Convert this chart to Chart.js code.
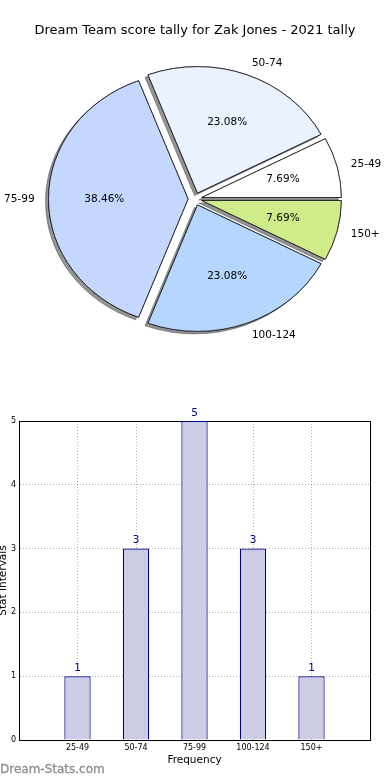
<!DOCTYPE html>
<html><head><meta charset="utf-8">
<script src="https://cdn.jsdelivr.net/npm/chart.js@4"></script>
<style>
html,body{margin:0;padding:0;background:#fff;}
#wrap{position:relative;width:390px;height:780px;overflow:hidden;background:#fff;}
#pie{position:absolute;left:0;top:0;}
#bar{position:absolute;left:0;top:400px;}
#wm{position:absolute;left:0;top:762px;font-family:'DejaVu Sans';font-size:12px;line-height:14px;color:#8c8c8c;font-weight:normal;white-space:nowrap;-webkit-text-stroke:0.3px #8c8c8c;}
</style></head><body>
<div id="wrap">
<canvas id="pie" width="390" height="400"></canvas>
<canvas id="bar" width="390" height="380"></canvas>
<div id="wm">Dream-Stats.com</div>
</div>
<script>
const titleText = 'Dream Team score tally for Zak Jones - 2021 tally';
const categories = ['25-49', '50-74', '75-99', '100-124', '150+'];
const counts = [1, 3, 5, 3, 1];
const sliceColors = ['#ffffff', '#eaf1ff', '#c4d7ff', '#b5d6ff', '#d0eb8a'];
const yTicks = [0, 1, 2, 3, 4, 5];
const xTitle = 'Frequency';
const yTitle = 'Stat Intervals';

Chart.defaults.font.family = "'DejaVu Sans'";
Chart.defaults.color = '#000';

// pie: matplotlib goes counter-clockwise from 3 o'clock; Chart.js clockwise -> reverse order
const pieLabels = categories.slice().reverse();
const pieValues = counts.slice().reverse();
const pieColors = sliceColors.slice().reverse();
const SX = 1.103;     // horizontal stretch (non-equal aspect)
const EXPLODE = 6.3;  // explode distance

const pieDraw = {
  id: 'pieDraw',
  beforeDatasetDraw(chart, args) {
    const ctx = chart.ctx;
    const els = args.meta.data;
    const cx = els[0].x, cy = els[0].y;
    const pass = (shadow) => {
      els.forEach(el => {
        const mid = (el.startAngle + el.endAngle) / 2;
        ctx.save();
        if (shadow) {
          ctx.shadowColor = 'rgba(60,60,60,0.55)';
          ctx.shadowOffsetX = -3;
          ctx.shadowOffsetY = 2.5;
          ctx.shadowBlur = 0;
        }
        ctx.translate(cx, cy); ctx.scale(SX, 1); ctx.translate(-cx, -cy);
        ctx.translate(Math.cos(mid) * EXPLODE, Math.sin(mid) * EXPLODE);
        el.draw(ctx);
        ctx.restore();
      });
    };
    pass(true);
    pass(false);
    return false;
  },
  afterDatasetsDraw(chart) {
    const ctx = chart.ctx;
    const meta = chart.getDatasetMeta(0);
    const data = chart.data.datasets[0].data;
    const total = data.reduce((a, b) => a + b, 0);
    ctx.save();
    ctx.font = "10.5px 'DejaVu Sans'";
    ctx.fillStyle = '#000';
    ctx.textBaseline = 'middle';
    meta.data.forEach((el, i) => {
      const mid = (el.startAngle + el.endAngle) / 2;
      const r = el.outerRadius, cx = el.x, cy = el.y;
      const c = Math.cos(mid), s = Math.sin(mid);
      const dp = EXPLODE + 0.6 * r;
      ctx.textAlign = 'center';
      ctx.fillText((data[i] / total * 100).toFixed(2) + '%', cx + SX * dp * c, cy + dp * s);
      const dl = EXPLODE + 1.1 * r;
      ctx.textAlign = c > 0 ? 'left' : 'right';
      ctx.fillText(chart.data.labels[i], cx + SX * dl * c, cy + dl * s);
    });
    ctx.restore();
  }
};

new Chart(document.getElementById('pie'), {
  type: 'pie',
  data: {
    labels: pieLabels,
    datasets: [{
      data: pieValues,
      backgroundColor: pieColors,
      borderColor: '#1a1a1a',
      borderWidth: 0.8
    }]
  },
  options: {
    responsive: false, animation: false, events: [], devicePixelRatio: 1,
    rotation: 90,
    radius: 126.5,
    layout: { padding: { left: 0, right: 0, top: 0, bottom: 50.6 } },
    plugins: {
      legend: { display: false },
      tooltip: { enabled: false },
      title: {
        display: true, text: titleText, color: '#000',
        font: { size: 13, weight: 'normal' },
        padding: { top: 23, bottom: 10 }
      }
    }
  },
  plugins: [pieDraw]
});

const barValues = {
  id: 'barValues',
  afterDraw(chart) {
    const ctx = chart.ctx;
    const meta = chart.getDatasetMeta(0);
    ctx.save();
    ctx.font = "10.5px 'DejaVu Sans'";
    ctx.fillStyle = '#000080';
    ctx.textAlign = 'center';
    ctx.textBaseline = 'alphabetic';
    meta.data.forEach((el, i) => ctx.fillText(String(counts[i]), el.x, el.y - 5.5));
    ctx.restore();
  }
};

const gridCfg = { color: 'rgba(0,0,0,0.3)', lineWidth: 1, drawTicks: false, offset: false };
const borderCfg = { display: true, color: '#000', width: 1, dash: [1, 2] };

new Chart(document.getElementById('bar'), {
  type: 'bar',
  data: {
    datasets: [{
      data: categories.map((c, i) => ({ x: i, y: counts[i] })),
      backgroundColor: '#ccccE6',
      borderColor: '#00008b',
      borderWidth: 1.2,
      barPercentage: 0.45,
      categoryPercentage: 1
    }]
  },
  options: {
    responsive: false, animation: false, events: [], devicePixelRatio: 1,
    layout: { padding: { top: 21, right: 20, bottom: 0, left: 0 } },
    plugins: { legend: { display: false }, tooltip: { enabled: false } },
    scales: {
      x: {
        type: 'linear', position: 'bottom', min: -1, max: 5, z: 1, offset: false,
        ticks: { stepSize: 1, autoSkip: false, maxRotation: 0, padding: 3, font: { size: 8 }, color: '#000',
                 callback: v => (categories[v] !== undefined ? categories[v] : '') },
        grid: gridCfg, border: borderCfg,
        title: { display: true, text: xTitle, font: { size: 10.5 }, color: '#000', padding: { top: 0, bottom: 13 } },
        afterFit: s => { s.height = 40; }
      },
      y: {
        type: 'linear', position: 'left', min: 0, max: 5, z: 1,
        afterBuildTicks: s => { s.ticks = yTicks.map(v => ({ value: v })); },
        ticks: { padding: 3, font: { size: 8 }, color: '#000' },
        grid: gridCfg, border: borderCfg,
        title: { display: true, text: yTitle, font: { size: 10.5 }, color: '#000', padding: { top: -3, bottom: 0 } },
        afterFit: s => { s.width = 19; }
      },
      xTop: {
        type: 'linear', position: 'top', min: -1, max: 5, z: 1, offset: false,
        grid: { display: false }, ticks: { display: false },
        border: { display: true, color: '#000', width: 1 },
        afterFit: s => { s.height = 0; }
      },
      yRight: {
        type: 'linear', position: 'right', min: 0, max: 5, z: 1,
        grid: { display: false }, ticks: { display: false },
        border: { display: true, color: '#000', width: 1 },
        afterFit: s => { s.width = 0; }
      }
    }
  },
  plugins: [barValues]
});
</script>
</body></html>
